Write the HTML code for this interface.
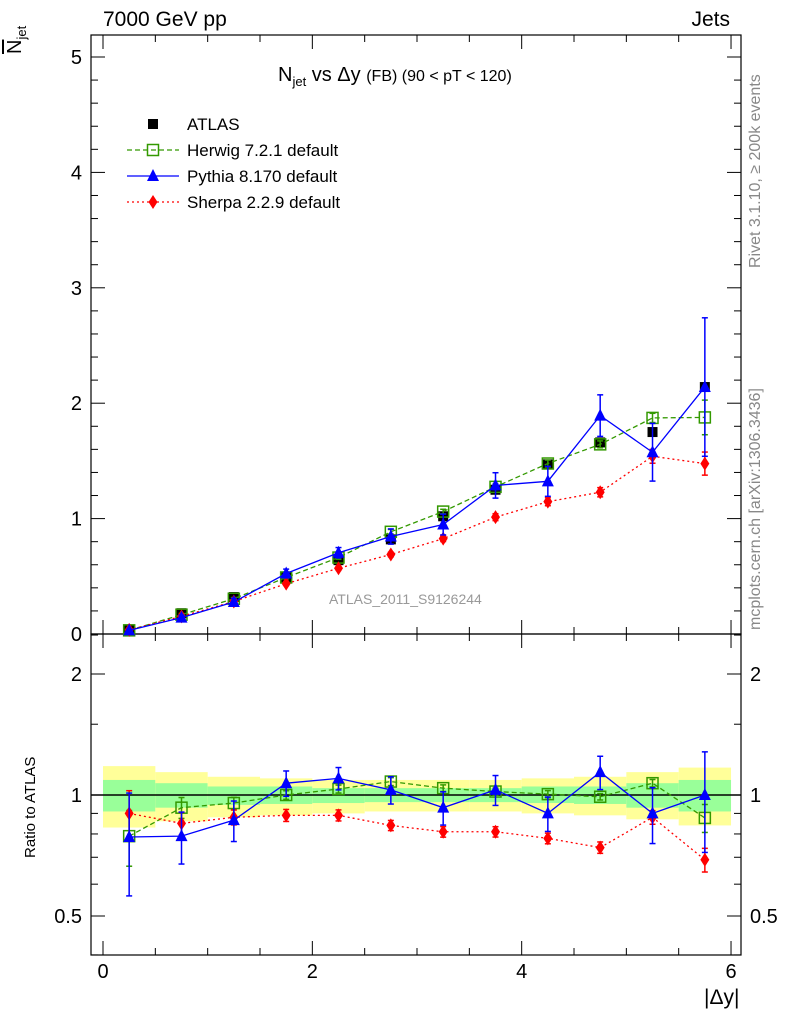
<!DOCTYPE html>
<html><head><meta charset="utf-8"><style>
body{margin:0;background:#fff;}
svg{font-family:"Liberation Sans",sans-serif;}
</style></head><body>
<svg id="c" width="786" height="1024" xmlns="http://www.w3.org/2000/svg"></svg>
<script>
const xs=[0.25,0.75,1.25,1.75,2.25,2.75,3.25,3.75,4.25,4.75,5.25,5.75];
const atlas=[0.04,0.18,0.32,0.49,0.64,0.82,1.02,1.25,1.47,1.66,1.75,2.14];
const herwigRatio=[0.79,0.93,0.955,1.0,1.035,1.08,1.04,1.02,1.005,0.99,1.07,0.877];
const pythiaRatio=[0.786,0.79,0.866,1.07,1.10,1.03,0.93,1.03,0.90,1.14,0.90,1.0];
const sherpaRatio=[0.90,0.85,0.88,0.89,0.89,0.84,0.81,0.81,0.78,0.74,0.88,0.69];
const pythiaErr=[0.009,0.021,0.032,0.038,0.045,0.066,0.09,0.11,0.13,0.18,0.25,0.6];
const sherpaErr=[0.005,0.01,0.012,0.015,0.018,0.02,0.025,0.03,0.035,0.04,0.06,0.1];
const herwigErr=[0.005,0.01,0.01,0.012,0.015,0.02,0.02,0.025,0.03,0.03,0.04,0.15];
const yellowHi=[1.18,1.14,1.11,1.10,1.09,1.09,1.09,1.09,1.10,1.11,1.14,1.17];
const yellowLo=[0.83,0.86,0.88,0.89,0.90,0.91,0.91,0.91,0.90,0.89,0.87,0.84];
const greenHi=[1.09,1.07,1.05,1.05,1.04,1.04,1.04,1.04,1.05,1.05,1.07,1.09];
const greenLo=[0.91,0.93,0.945,0.95,0.955,0.96,0.96,0.96,0.955,0.95,0.93,0.91];
const mainTicks=[0,1,2,3,4,5];
const ratioTicks=[0.5,1,2];
const xTicks=[0,2,4,6];

const svg=document.getElementById('c');
const NS='http://www.w3.org/2000/svg';
function el(t,a,p){const e=document.createElementNS(NS,t);for(const k in a)e.setAttribute(k,a[k]);(p||svg).appendChild(e);return e;}
const L=91,R=741,T=35,M=634,B=955;
const X=v=>103+v*104.67;
const Y=v=>634-v*115.4;
const YR=v=>795-Math.log2(v)*121;

// bands
const gb=el('g',{});


xs.forEach((x,i)=>{
 const x0=X(x-0.25),x1=X(x+0.25);
 const r=el('rect',{x:x0,y:YR(yellowHi[i]),width:x1-x0,height:YR(yellowLo[i])-YR(yellowHi[i]),fill:'#ffff99'},gb);
 
 
 const g=el('rect',{x:x0,y:YR(greenHi[i]),width:x1-x0,height:YR(greenLo[i])-YR(greenHi[i]),fill:'#99ff99'},gb);
 
 
});
el('line',{x1:L,x2:R,y1:YR(1),y2:YR(1),stroke:'#000','stroke-width':1.5});

// frames
const fr1=el('rect',{x:L,y:T,width:R-L,height:M-T,fill:'none',stroke:'#000','stroke-width':1.2});


const fr2=el('rect',{x:L,y:M,width:R-L,height:B-M,fill:'none',stroke:'#000','stroke-width':1.2});



// x ticks
for(let v=0;v<=6.01;v+=0.5){
 const maj=Math.abs(v-Math.round(v/2)*2)<1e-6, len=maj?14:7;
 [[T,1],[M,-1],[M,1],[B,-1]].forEach(([y,d])=>el('line',{x1:X(v),x2:X(v),y1:y,y2:y+d*len,stroke:'#000'}));
}
xTicks.forEach(v=>{const t=el('text',{x:X(v),y:978,'text-anchor':'middle','font-size':20});t.textContent=v;
 });
// main y ticks
for(let v=0;v<=5.2;v+=0.2){
 const maj=Math.abs(v-Math.round(v))<1e-6,len=maj?14:7;
 if(Y(v)<T)continue;
 el('line',{x1:L,x2:L+len,y1:Y(v),y2:Y(v),stroke:'#000'});
 el('line',{x1:R,x2:R-len,y1:Y(v),y2:Y(v),stroke:'#000'});
}
mainTicks.forEach(v=>{const t=el('text',{x:82,y:Y(v)+7,'text-anchor':'end','font-size':20});t.textContent=v;
 });
// ratio ticks
[0.4,0.5,0.6,0.7,0.8,0.9,1,1.5,2,2.5,3].forEach(v=>{
 const y=YR(v); if(y<M||y>B)return;
 const maj=ratioTicks.includes(v),len=maj?14:7;
 el('line',{x1:L,x2:L+len,y1:y,y2:y,stroke:'#000'});
 el('line',{x1:R,x2:R-len,y1:y,y2:y,stroke:'#000'});
});
ratioTicks.forEach(v=>{
 const t=el('text',{x:82,y:YR(v)+7,'text-anchor':'end','font-size':20});t.textContent=v;
 
 const t2=el('text',{x:750,y:YR(v)+7,'font-size':20});t2.textContent=v;
 
});

// markers
function marker(kind,x,y,g){
 if(kind==='sq')return el('rect',{x:x-5,y:y-5,width:10,height:10,fill:'#000'},g);
 if(kind==='osq')return el('rect',{x:x-5.5,y:y-5.5,width:11,height:11,fill:'none',stroke:'#339900','stroke-width':1.5},g);
 if(kind==='tri')return el('polygon',{points:`${x},${y-7} ${x-6},${y+5} ${x+6},${y+5}`,fill:'#0000ff'},g);
 return el('polygon',{points:`${x},${y-7} ${x-4.5},${y} ${x},${y+7} ${x+4.5},${y}`,fill:'#ff0000'},g);
}
function series(name,vals,errs,color,dash,kind,Yf,drawLine){
 const g=el('g',{});
 
 
 if(drawLine){el('polyline',{points:xs.map((x,i)=>X(x)+','+Yf(vals[i])).join(' '),fill:'none',stroke:color,'stroke-width':1.3,'stroke-dasharray':dash},g);}
 xs.forEach((x,i)=>{
  if(errs){const lo=Math.max(Yf(vals[i]-errs[i]),0),hi=Yf(vals[i]+errs[i]);
   el('line',{x1:X(x),x2:X(x),y1:Math.min(lo,Yf===Y?M:B),y2:hi,stroke:color,'stroke-width':1.5},g);
   el('line',{x1:X(x)-3,x2:X(x)+3,y1:hi,y2:hi,stroke:color,'stroke-width':1.5},g);
   if(lo<(Yf===Y?M:B))el('line',{x1:X(x)-3,x2:X(x)+3,y1:lo,y2:lo,stroke:color,'stroke-width':1.5},g);}
  const m=marker(kind,X(x),Yf(vals[i]),g);
  
  
 });
}
const herwig=xs.map((x,i)=>herwigRatio[i]*atlas[i]);
const pythia=xs.map((x,i)=>pythiaRatio[i]*atlas[i]);
const sherpa=xs.map((x,i)=>sherpaRatio[i]*atlas[i]);
series('atlas-data',atlas,null,'#000','','sq',Y,false);
series('herwig-main',herwig,herwigErr,'#339900','5,3','osq',Y,true);
series('sherpa-main',sherpa,sherpaErr,'#ff0000','2,3','dia',Y,true);
series('pythia-main',pythia,pythiaErr,'#0000ff','','tri',Y,true);
series('herwig-ratio',herwigRatio,herwigErr.map((e,i)=>e/atlas[i]),'#339900','5,3','osq',YR,true);
series('sherpa-ratio',sherpaRatio,sherpaErr.map((e,i)=>e/atlas[i]),'#ff0000','2,3','dia',YR,true);
series('pythia-ratio',pythiaRatio,pythiaErr.map((e,i)=>e/atlas[i]),'#0000ff','',  'tri',YR,true);

// legend
const lg=el('g',{});


const legNames=['ATLAS','Herwig 7.2.1 default','Pythia 8.170 default','Sherpa 2.2.9 default'];
const legKinds=['sq','osq','tri','dia'],legCol=['#000','#339900','#0000ff','#ff0000'],legDash=['','5,3','','2,3'];
legNames.forEach((n,i)=>{
 const y=124+i*26;
 if(i>0)el('line',{x1:127,x2:179,y1:y,y2:y,stroke:legCol[i],'stroke-width':1.3,'stroke-dasharray':legDash[i]},lg);
 marker(legKinds[i],153,y,lg);
 const t=el('text',{x:187,y:y+6,'font-size':17},lg);t.textContent=n;
 
});
</script>
<div style="position:absolute;left:0;top:0;width:786px;height:1024px;font-family:'Liberation Sans',sans-serif;pointer-events:none">
<div style="position:absolute;left:103px;top:8px;font-size:21px">7000 GeV pp</div>
<div style="position:absolute;right:56px;top:8px;font-size:21px">Jets</div>
<div style="position:absolute;left:278px;top:64px;font-size:20px;white-space:nowrap">N<sub style="font-size:13px">jet</sub> vs Δy <span style="font-size:16px">(FB) (90 &lt; pT &lt; 120)</span></div>
<div style="position:absolute;left:4px;top:54px;font-size:20px;transform:rotate(-90deg);transform-origin:left top;white-space:nowrap"><span style="text-decoration:overline">N</span><sub style="font-size:13px">jet</sub></div>
<div style="position:absolute;left:22px;top:858px;font-size:15px;transform:rotate(-90deg);transform-origin:left top;white-space:nowrap">Ratio to ATLAS</div>
<div style="position:absolute;left:704px;top:986px;font-size:21px">|Δy|</div>
<div style="position:absolute;left:329px;top:591px;font-size:14px;color:#999">ATLAS_2011_S9126244</div>
<div style="position:absolute;left:747px;top:268px;font-size:16px;color:#888;transform:rotate(-90deg);transform-origin:left top;white-space:nowrap">Rivet 3.1.10, ≥ 200k events</div>
<div style="position:absolute;left:747px;top:630px;font-size:16px;color:#888;transform:rotate(-90deg);transform-origin:left top;white-space:nowrap">mcplots.cern.ch [arXiv:1306.3436]</div>
</div>
</body></html>
